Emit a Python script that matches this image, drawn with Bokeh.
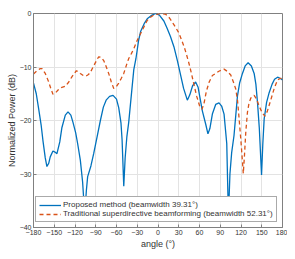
from bokeh.plotting import figure
from bokeh.models import FixedTicker, Legend, LegendItem
from bokeh.embed import file_html
from bokeh.resources import INLINE

# ---- data ----
angle_proposed = [-180, -176, -172.8, -169, -166.4, -163, -160.6, -158, -155.8, -151.9,
                  -149, -146.1, -142, -138.9, -134, -130.1, -126, -123, -119, -116.2,
                  -112.3, -109, -106, -103.5, -101.7, -97, -93, -88, -83.3, -79,
                  -75, -70, -65, -60, -56.8, -53.5, -51.9, -49.5, -47.5, -45,
                  -42.3, -38, -35, -32, -28, -25, -20, -15.6, -10, -3.6,
                  2, 8.5, 13, 18, 23, 28, 32.7, 37, 42.4, 46,
                  50, 54.4, 58, 64.1, 69, 72.2, 75, 78.6, 83.4, 88.2,
                  92, 95.5, 99.4, 101.8, 104, 106.5, 109.9, 114.9, 118, 122.1,
                  126, 130.3, 135, 139, 141.5, 143.9, 146.5, 149.7, 151.5, 153.5,
                  157, 160.7, 165, 168.5, 172.9, 176.5, 180]
power_proposed = [-13.0, -15.0, -17.6, -20.8, -23.7, -27.0, -28.6, -28.0, -26.8, -25.7,
                  -25.9, -26.2, -24.0, -21.3, -19.0, -18.4, -19.0, -20.3, -22.3, -24.3,
                  -27.4, -31.5, -37.5, -33.0, -30.5, -28.5, -26.2, -23.0, -20.0, -17.5,
                  -16.2, -15.5, -15.3, -16.0, -17.6, -20.5, -23.7, -32.3, -27.0, -23.0,
                  -20.3, -14.5, -10.5, -8.5, -5.0, -3.3, -1.9, -1.0, -0.4, 0.0,
                  -0.3, -1.4, -2.7, -4.3, -6.2, -8.8, -11.5, -14.0, -16.2, -15.2,
                  -13.5, -12.8, -13.8, -18.2, -20.7, -22.5, -21.5, -18.8, -17.0, -16.7,
                  -17.3, -18.8, -24.3, -38.0, -30.0, -26.0, -22.8, -15.4, -13.0, -11.2,
                  -9.8, -9.2, -9.8, -11.2, -13.2, -16.7, -21.5, -30.2, -24.5, -19.7,
                  -16.6, -14.8, -13.2, -12.3, -11.9, -12.1, -12.4]

angle_traditional = [-180, -175, -170.3, -167.8, -163, -158.3, -155, -151.9, -148, -143.8,
                     -139, -134, -129, -124.3, -118.1, -115, -112.3, -108, -104.1, -100.5,
                     -97.8, -93, -88.1, -85.8, -82, -78.5, -75, -71.3, -67.5, -64,
                     -60.5, -56.8, -53, -49.5, -45.5, -42.3, -38.5, -35, -30, -25.3,
                     -20, -15.6, -10.8, -5, 4, 10, 14, 18, 22, 26,
                     30, 34, 38, 41.5, 44.7, 48, 52, 56, 60, 63.6,
                     66.5, 70, 74, 78.6, 83.4, 88, 93.1, 95.5, 100, 105.2,
                     109, 112.4, 115, 117.3, 120, 122.1, 123.3, 124.8, 127, 129.3,
                     131.5, 134.2, 139, 142.5, 146.2, 150, 154.5, 158, 163.2, 168,
                     172.9, 177.6, 180]
power_traditional = [-11.3, -10.7, -10.3, -10.3, -11.2, -12.7, -14.0, -15.1, -14.8, -14.2,
                     -13.8, -13.6, -12.8, -11.8, -10.7, -10.9, -11.2, -11.6, -11.7, -11.4,
                     -11.0, -9.8, -8.6, -8.1, -8.2, -8.8, -9.9, -11.2, -12.8, -14.0,
                     -13.7, -13.0, -12.1, -11.2, -9.6, -8.4, -7.5, -6.6, -5.0, -3.8,
                     -2.4, -1.3, -0.7, -0.2, 0.0, -0.1, -0.4, -1.1, -1.9, -2.7,
                     -3.6, -4.9, -6.3, -7.8, -9.3, -11.0, -13.3, -15.5, -17.2, -17.9,
                     -16.8, -14.5, -12.8, -11.6, -11.2, -10.8, -10.5, -10.4, -10.8, -11.5,
                     -12.8, -14.1, -16.3, -19.7, -24.0, -27.7, -29.9, -27.0, -22.0, -18.5,
                     -16.8, -15.8, -15.3, -16.0, -17.3, -18.4, -19.2, -18.3, -16.1, -14.0,
                     -12.4, -12.1, -12.3]

x_ticks = [-180, -150, -120, -90, -60, -30, 0, 30, 60, 90, 120, 150, 180]
y_ticks = [-40, -30, -20, -10, 0]

label_proposed = "Proposed method (beamwidth 39.31°)"
label_traditional = "Traditional superdirective beamforming (beamwidth 52.31°)"
x_label = "angle (°)"
y_label = "Normalized Power (dB)"

# ---- styling ----
FONT = "Liberation Sans"
TEXT = "#333333"
AXIS = "#808080"
BLUE = "#0072BD"
ORANGE = "#D95319"

p = figure(width=287, height=251, x_range=(-180, 180), y_range=(-40, 0),
           output_backend="svg", toolbar_location=None,
           min_border_left=33, min_border_right=5, min_border_top=13, min_border_bottom=20)

p.background_fill_color = "white"
p.border_fill_color = "white"
p.outline_line_color = AXIS
p.outline_line_width = 1

for ax in (p.xaxis[0], p.yaxis[0]):
    ax.major_tick_in = 3
    ax.major_tick_out = 0
    ax.minor_tick_in = 0
    ax.minor_tick_out = 0
    ax.axis_line_color = AXIS
    ax.major_tick_line_color = AXIS
    ax.major_label_text_font = FONT
    ax.major_label_text_font_size = "7px"
    ax.major_label_text_color = TEXT
    ax.axis_label_text_font = FONT
    ax.axis_label_text_font_size = "9px"
    ax.axis_label_text_font_style = "normal"
    ax.axis_label_text_color = TEXT

p.xaxis[0].ticker = FixedTicker(ticks=x_ticks)
p.yaxis[0].ticker = FixedTicker(ticks=y_ticks)
p.xaxis[0].axis_label = x_label
p.yaxis[0].axis_label = y_label
p.xaxis[0].major_label_standoff = 2
p.xaxis[0].axis_label_standoff = 1
p.yaxis[0].major_label_standoff = 2
p.yaxis[0].axis_label_standoff = 0

p.xgrid.ticker = FixedTicker(ticks=x_ticks)
p.ygrid.ticker = FixedTicker(ticks=y_ticks)
p.xgrid.grid_line_color = "#e3e3e3"
p.ygrid.grid_line_color = "#e3e3e3"

r1 = p.line(angle_proposed, power_proposed, line_color=BLUE, line_width=1.3)
r2 = p.line(angle_traditional, power_traditional, line_color=ORANGE, line_width=1.3,
            line_dash="4 3")

legend = Legend(items=[LegendItem(label=label_proposed, renderers=[r1]),
                       LegendItem(label=label_traditional, renderers=[r2])],
                location=(2, 5))
legend.label_text_font = FONT
legend.label_text_font_size = "8px"
legend.label_text_color = TEXT
legend.padding = 3
legend.spacing = 0
legend.margin = 0
legend.glyph_width = 22
legend.glyph_height = 8
legend.label_height = 8
legend.label_standoff = 2
legend.border_line_color = "#555555"
legend.border_line_width = 1
legend.background_fill_alpha = 1
p.add_layout(legend, "center")

open("out.html", "w").write(file_html(p, INLINE))
